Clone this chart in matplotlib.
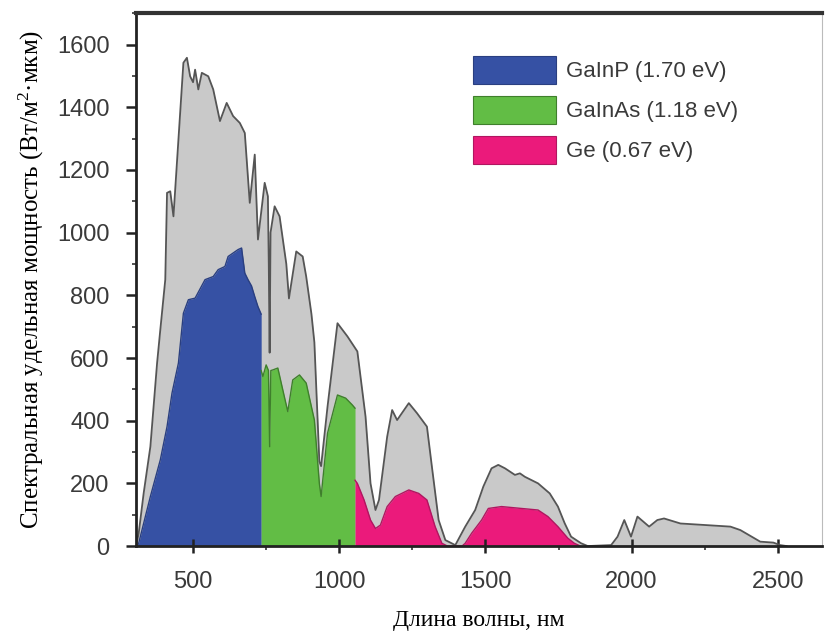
import numpy as np
import matplotlib.pyplot as plt
from matplotlib.patches import Patch
from matplotlib.ticker import MultipleLocator

plt.rcParams["mathtext.fontset"] = "custom"
plt.rcParams["mathtext.rm"] = "Liberation Serif"
plt.rcParams["mathtext.it"] = "Liberation Serif"

# solar spectrum (grey envelope), nm -> W/(m2 um)
sun_nm = [305, 314, 331, 354, 377, 388, 405, 411, 422, 433, 450, 467, 479, 490,
          500, 507, 518, 530, 552, 569, 592, 615, 637, 660, 677, 694, 711, 722,
          745, 756, 759, 762, 765, 779, 796, 819, 828, 853, 875, 887, 905, 915,
          932, 938, 960, 994, 1028, 1062, 1090, 1107, 1124, 1136, 1164, 1181,
          1198, 1238, 1266, 1300, 1317, 1340, 1363, 1397, 1431, 1465, 1493,
          1521, 1544, 1567, 1601, 1618, 1635, 1680, 1720, 1748, 1771, 1793,
          1827, 1850, 1930, 1952, 1975, 1998, 2020, 2060, 2088, 2111, 2167,
          2338, 2372, 2440, 2485, 2508, 2530]
sun_val = [0, 40, 168, 317, 584, 690, 850, 1127, 1132, 1052, 1297, 1542, 1558, 1499,
           1480, 1520, 1457, 1510, 1499, 1457, 1356, 1414, 1372, 1350, 1318, 1095,
           1249, 978, 1159, 1116, 900, 617, 1000, 1084, 1052, 900, 790, 940, 924,
           860, 740, 650, 270, 255, 445, 711, 669, 621, 413, 200, 115, 147, 349,
           434, 402, 456, 424, 381, 253, 83, 19, 3, 62, 115, 190, 248, 259, 248,
           227, 232, 221, 200, 168, 126, 73, 30, 9, 0, 3, 30, 83, 30, 94, 62, 83,
           88, 72, 62, 51, 14, 11, 3, 0]

# GaInP sub-cell
gainp_nm = [310, 314, 354, 388, 411, 428, 450, 467, 484, 507, 541, 569, 586, 609,
            620, 637, 654, 666, 677, 688, 700, 711, 722, 733]
gainp_val = [0, 9, 158, 275, 381, 488, 584, 743, 786, 791, 850, 860, 882, 892,
             924, 935, 946, 951, 871, 850, 830, 796, 764, 740]

# GaInAs sub-cell
gainas_nm = [733, 739, 750, 758, 762, 766, 773, 790, 807, 824, 841, 864, 887, 915,
             932, 938, 960, 994, 1022, 1045, 1054]
gainas_val = [560, 541, 578, 560, 317, 560, 562, 568, 498, 429, 530, 546, 520, 402,
              200, 158, 360, 482, 472, 450, 440]

# Ge sub-cell
ge_nm = [1054, 1062, 1085, 1107, 1124, 1141, 1164, 1192, 1238, 1272, 1300, 1328,
         1351, 1370, 1420, 1431, 1453, 1487, 1510, 1555, 1623, 1680, 1714, 1748,
         1782, 1804, 1825]
ge_val = [210, 200, 147, 83, 56, 67, 126, 158, 179, 168, 147, 62, 9, 0, 0, 9, 41,
          83, 120, 126, 120, 115, 94, 62, 25, 9, 0]

labels = ["GaInP (1.70 eV)", "GaInAs (1.18 eV)", "Ge (0.67 eV)"]
colors = ["#3651a4", "#62bd45", "#eb1a7b"]
edges = ["#2a3f80", "#3f7f2c", "#b01660"]

fig = plt.figure(figsize=(8.27, 6.32), dpi=100)
ax = fig.add_axes([0.1645, 0.136, 0.829, 0.843])

ax.fill_between(sun_nm, sun_val, color="#c9c9c9", lw=0)
ax.plot(sun_nm, sun_val, color="#555555", lw=1.3)

cells = [(gainp_nm, gainp_val), (gainas_nm, gainas_val), (ge_nm, ge_val)]
for (x, y), c, e in zip(cells, colors, edges):
    ax.fill_between(x, y, color=c, lw=0)
    ax.plot(x, y, color=e, lw=1.0)

ax.set_xlim(305, 2650)
ax.set_ylim(0, 1700)
ax.set_xticks([500, 1000, 1500, 2000, 2500])
ax.set_yticks(range(0, 1601, 200))
ax.xaxis.set_minor_locator(MultipleLocator(250))
ax.yaxis.set_minor_locator(MultipleLocator(100))

for s in ["left", "bottom"]:
    ax.spines[s].set_linewidth(2)
    ax.spines[s].set_color("#222222")
ax.spines["top"].set_linewidth(3)
ax.spines["top"].set_color("#333333")
ax.spines["right"].set_linewidth(0.8)
ax.spines["right"].set_color("#bbbbbb")

ax.tick_params(axis="both", which="major", labelsize=17, labelcolor="#3a3a3a",
               color="#222222", width=1.8, length=7)
ax.tick_params(axis="x", which="major", direction="inout", length=10, pad=13)
ax.tick_params(axis="y", which="major", direction="out", pad=12)
ax.tick_params(axis="both", which="minor", direction="out", length=3, width=1.2,
               color="#333333")
for lab in ax.get_xticklabels() + ax.get_yticklabels():
    lab.set_family("Liberation Sans")

ax.set_xlabel("Длина волны, нм", family="Liberation Serif", fontsize=17,
              labelpad=12)
ax.set_ylabel("Спектральная удельная мощность (Вт/м$^2$·мкм)",
              family="Liberation Serif", fontsize=18, labelpad=8)

handles = [Patch(facecolor=c, edgecolor=e, lw=0.8) for c, e in zip(colors, edges)]
fig.legend(handles, labels, loc="upper left", bbox_to_anchor=(462 / 827, 1 - 45 / 632),
           frameon=False, borderpad=0, handlelength=3.75, handleheight=1.55,
           handletextpad=0.45, labelspacing=0.55,
           prop={"family": "Liberation Sans", "size": 16}, labelcolor="#3a3a3a")

fig.savefig("out.png", dpi=100)
